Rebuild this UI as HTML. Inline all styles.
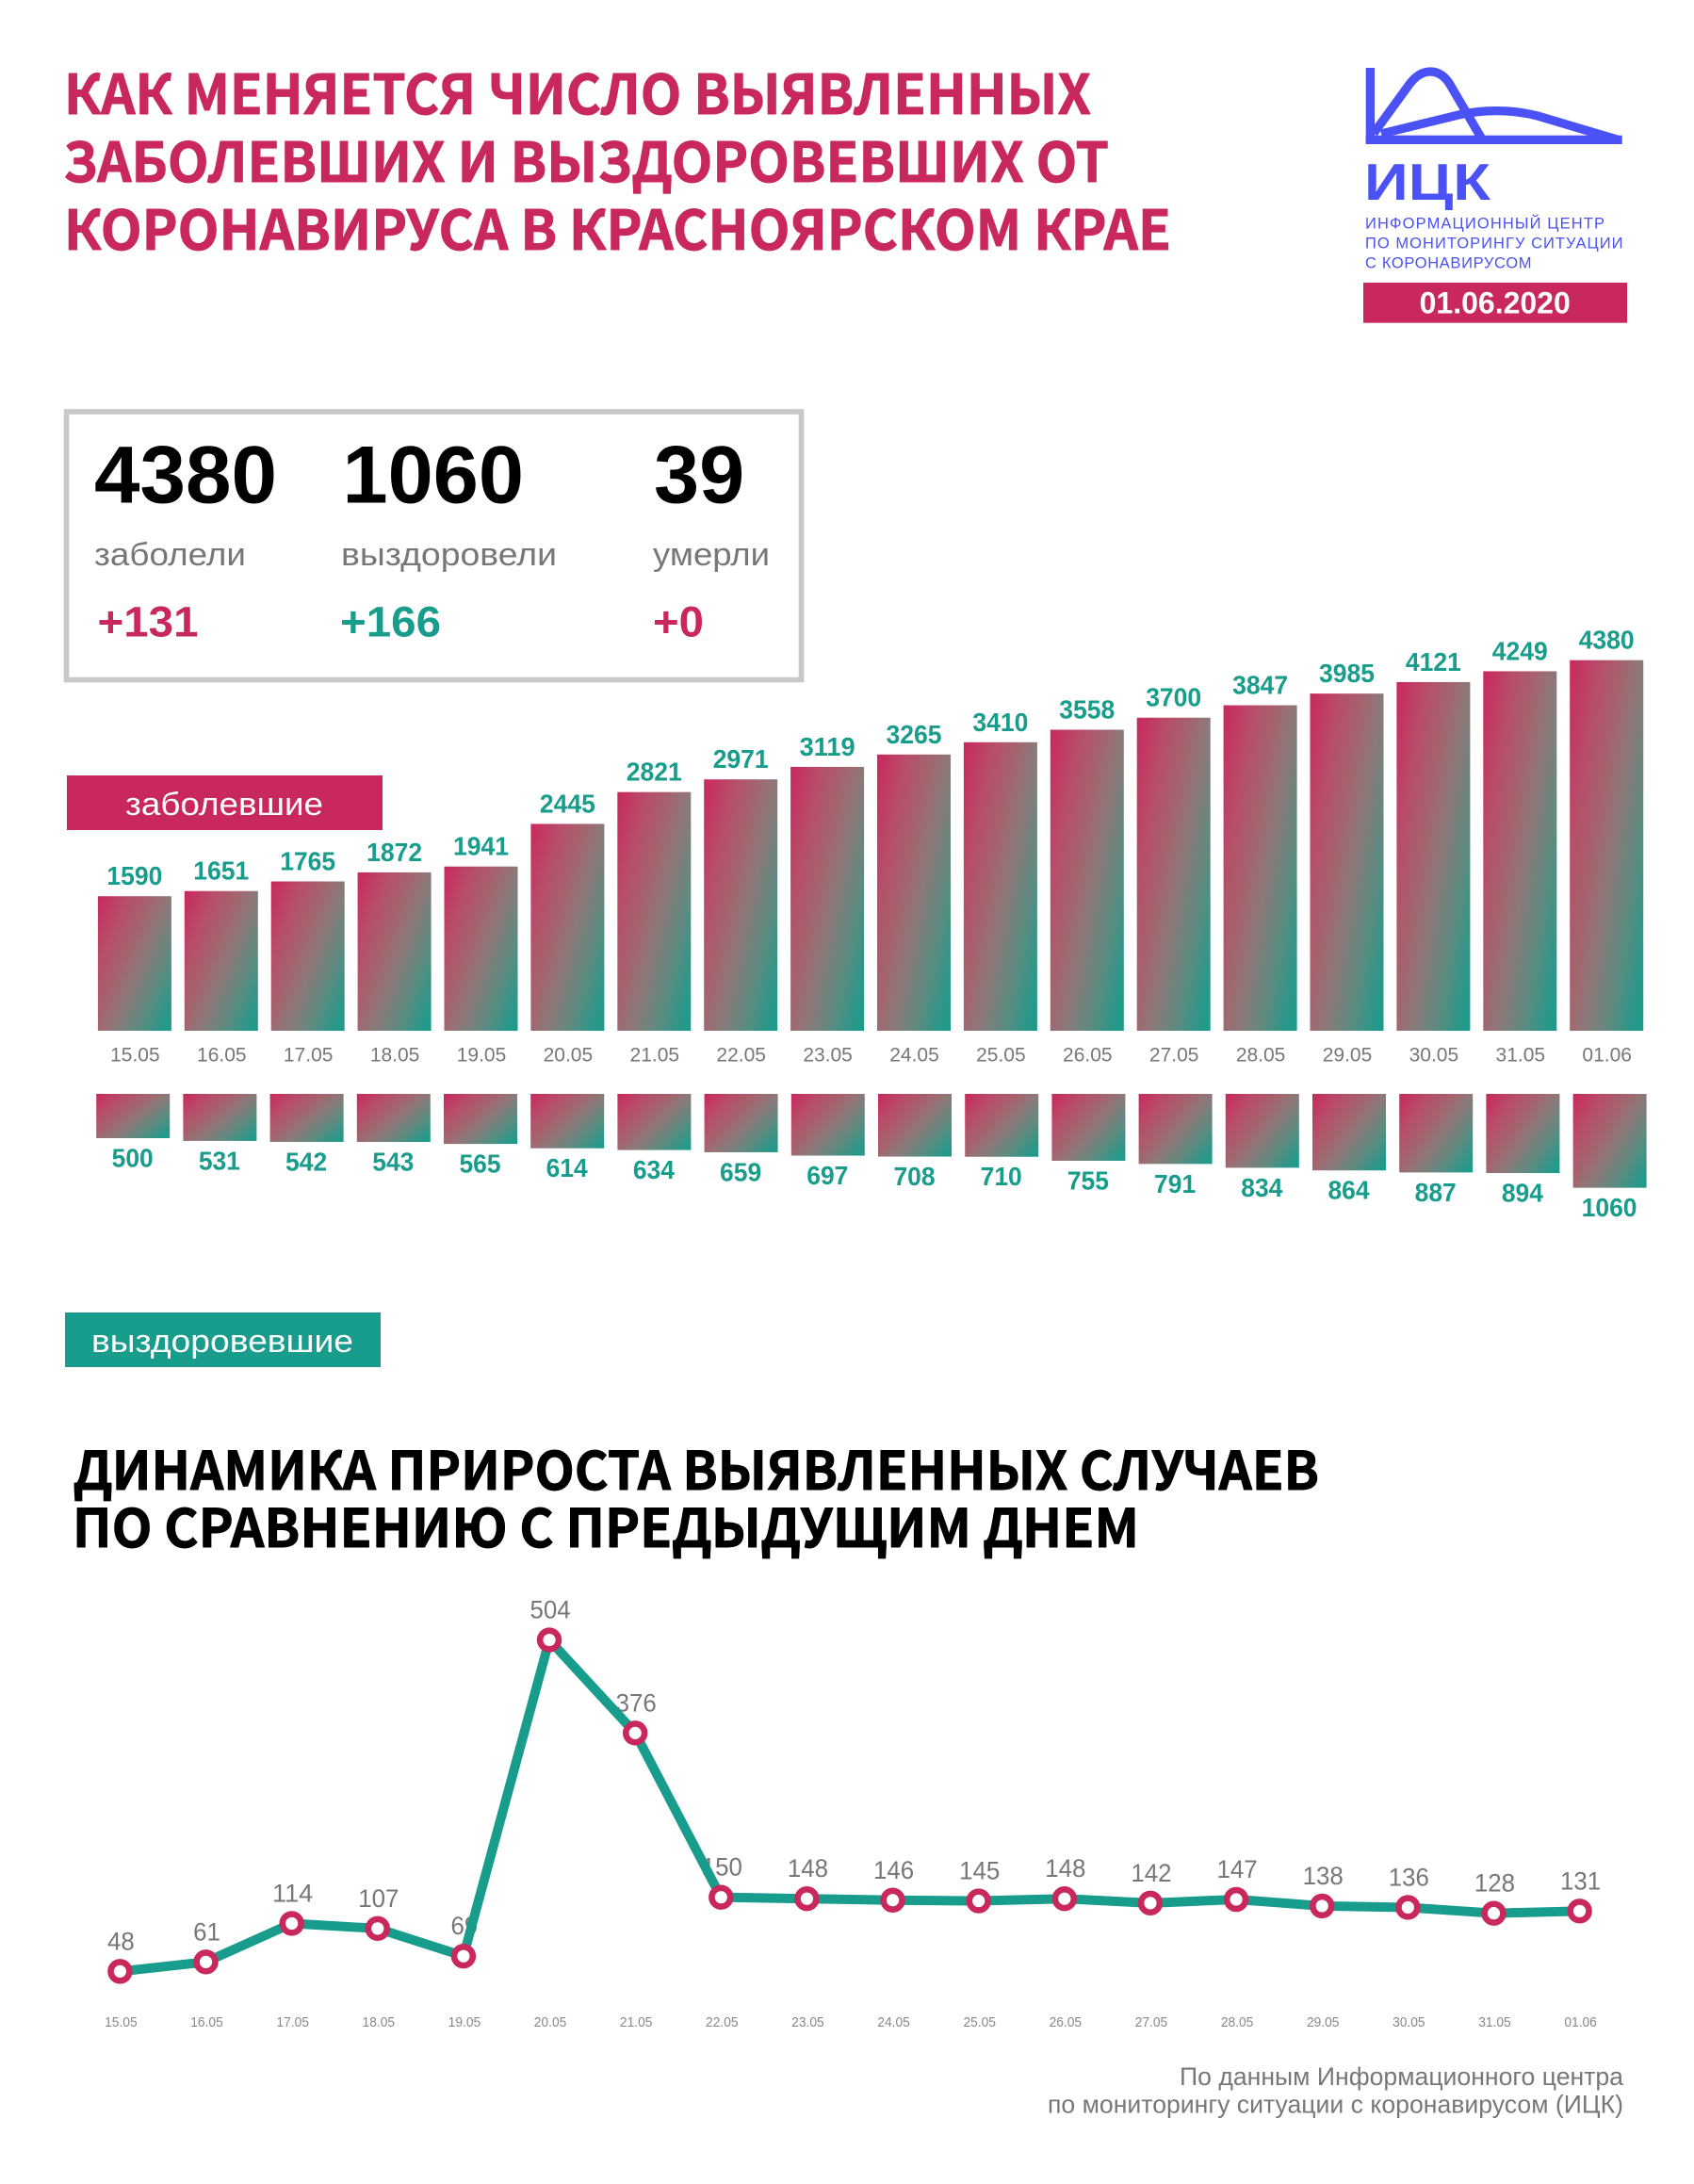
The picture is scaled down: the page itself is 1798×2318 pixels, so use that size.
<!DOCTYPE html>
<html lang="ru">
<head>
<meta charset="utf-8">
<title>Коронавирус в Красноярском крае</title>
<style>
html,body{margin:0;padding:0;background:#fff}
svg{display:block}
text{font-family:"Liberation Sans","Noto Sans CJK JP",sans-serif}
.cal{font-family:"Noto Sans CJK JP","Liberation Sans",sans-serif;font-weight:700;stroke-width:0.9;stroke-linejoin:round}
</style>
</head>
<body>
<svg id="page" xmlns="http://www.w3.org/2000/svg" width="1798" height="2318" viewBox="0 0 1798 2318">
<defs>
<linearGradient id="barGrad" x1="0" y1="0" x2="1.104" y2="0.868">
<stop offset="0" stop-color="#c9285c"/>
<stop offset="0.22" stop-color="#b84c68"/>
<stop offset="0.44" stop-color="#a0686f"/>
<stop offset="0.5" stop-color="#947276"/>
<stop offset="0.56" stop-color="#8a7a78"/>
<stop offset="0.75" stop-color="#5a8c82"/>
<stop offset="0.9" stop-color="#2c9789"/>
<stop offset="1" stop-color="#189c8c"/>
</linearGradient>
</defs>
<rect width="1798" height="2318" fill="#fff"/>

<g fill="#c9285c" stroke="#c9285c" font-size="58">
<text class="cal" x="68" y="121" textLength="1090" lengthAdjust="spacingAndGlyphs">КАК МЕНЯЕТСЯ ЧИСЛО ВЫЯВЛЕННЫХ</text>
<text class="cal" x="67" y="193" textLength="1110" lengthAdjust="spacingAndGlyphs">ЗАБОЛЕВШИХ И ВЫЗДОРОВЕВШИХ ОТ</text>
<text class="cal" x="68" y="265" textLength="1175" lengthAdjust="spacingAndGlyphs">КОРОНАВИРУСА В КРАСНОЯРСКОМ КРАЕ</text>
</g>

<g>
<g fill="none" stroke="#4a52f5" stroke-width="9.3">
<path d="M1458,141.5 L1497,88 C1510,72 1527,72 1538,88 L1572,146"/>
<path d="M1466,142 L1548,122 C1575,116 1605,116 1632,123 L1716,148"/>
</g>
<rect x="1449.7" y="72" width="9.3" height="81" fill="#4a52f5"/>
<rect x="1449.7" y="143.7" width="272" height="9.3" fill="#4a52f5"/>
<text x="1448" y="212" font-size="55" font-weight="700" fill="#4a52f5" textLength="134" lengthAdjust="spacingAndGlyphs">ИЦК</text>
<text x="1449" y="242.7" font-size="16.5" fill="#4a52f5" textLength="254" lengthAdjust="spacing">ИНФОРМАЦИОННЫЙ ЦЕНТР</text>
<text x="1449" y="263.7" font-size="16.5" fill="#4a52f5" textLength="273.5" lengthAdjust="spacing">ПО МОНИТОРИНГУ СИТУАЦИИ</text>
<text x="1449" y="284.3" font-size="16.5" fill="#4a52f5" textLength="176.5" lengthAdjust="spacing">С КОРОНАВИРУСОМ</text>
</g>
<rect x="1447" y="300" width="280" height="42.7" fill="#c9285c"/>
<text x="1586.7" y="332.3" text-anchor="middle" font-size="32" font-weight="700" fill="#fff">01.06.2020</text>

<g>
<rect x="70.5" y="437" width="780" height="284.5" fill="none" stroke="#c8c8c8" stroke-width="5.6"/>
<text x="100" y="533.5" font-size="86.5" font-weight="700" fill="#000" textLength="194" lengthAdjust="spacingAndGlyphs">4380</text>
<text x="363.5" y="533.5" font-size="86.5" font-weight="700" fill="#000">1060</text>
<text x="694" y="533.5" font-size="86.5" font-weight="700" fill="#000">39</text>
<text x="100" y="600" font-size="34" fill="#777" textLength="161" lengthAdjust="spacingAndGlyphs">заболели</text>
<text x="362" y="600" font-size="34" fill="#777" textLength="229" lengthAdjust="spacingAndGlyphs">выздоровели</text>
<text x="693" y="600" font-size="34" fill="#777" textLength="124" lengthAdjust="spacingAndGlyphs">умерли</text>
<text x="103.5" y="675.6" font-size="45" font-weight="700" fill="#c9285c" textLength="107" lengthAdjust="spacingAndGlyphs">+131</text>
<text x="361" y="675.6" font-size="45" font-weight="700" fill="#189c8c" textLength="107" lengthAdjust="spacingAndGlyphs">+166</text>
<text x="693" y="675.6" font-size="45" font-weight="700" fill="#c9285c" textLength="54" lengthAdjust="spacingAndGlyphs">+0</text>
</g>

<rect x="71" y="823" width="335" height="58" fill="#c9285c"/>
<text x="133" y="864.8" font-size="34" fill="#fff" textLength="210" lengthAdjust="spacingAndGlyphs">заболевшие</text>
<rect x="69" y="1393" width="335" height="58" fill="#189c8c"/>
<text x="97" y="1435" font-size="34" fill="#fff" textLength="278" lengthAdjust="spacingAndGlyphs">выздоровевшие</text>

<g id="casesChart"></g>
<g id="recoveredChart"></g>

<g fill="#000" stroke="#000" font-size="56">
<text class="cal" x="78" y="1581" textLength="1322" lengthAdjust="spacingAndGlyphs">ДИНАМИКА ПРИРОСТА ВЫЯВЛЕННЫХ СЛУЧАЕВ</text>
<text class="cal" x="77" y="1642" textLength="1132" lengthAdjust="spacingAndGlyphs">ПО СРАВНЕНИЮ С ПРЕДЫДУЩИМ ДНЕМ</text>
</g>

<g id="growthChart"></g>

<g fill="#777" font-size="27">
<text x="1252" y="2213" textLength="471" lengthAdjust="spacingAndGlyphs">По данным Информационного центра</text>
<text x="1112" y="2242.7" textLength="611" lengthAdjust="spacingAndGlyphs">по мониторингу ситуации с коронавирусом (ИЦК)</text>
</g>
</svg>

<script>
const dates = ["15.05","16.05","17.05","18.05","19.05","20.05","21.05","22.05","23.05","24.05","25.05","26.05","27.05","28.05","29.05","30.05","31.05","01.06"];
const casesTotal = [1590,1651,1765,1872,1941,2445,2821,2971,3119,3265,3410,3558,3700,3847,3985,4121,4249,4380];
const recoveredTotal = [500,531,542,543,565,614,634,659,697,708,710,755,791,834,864,887,894,1060];
const dailyGrowth = [48,61,114,107,69,504,376,150,148,146,145,148,142,147,138,136,128,131];

const NS = "http://www.w3.org/2000/svg";
const TEAL = "#189c8c";
const CRIMSON = "#c9285c";
const BAR_W = 78;

function casesX(i){ return 103.9 + 91.9 * i; }
function casesY(v){ return 1094 - v * 0.0898; }
function recoveredX(i){ return 102.2 + 92.2 * i; }
function recoveredY(v){ return 1161 + v * 0.094; }
function growthX(i){ return 127.4 + 91.13 * i; }
function growthY(v){ return 2129.4 - v * 0.7715; }

function makeText(parent, str, x, y, size, fill, bold, perDigit){
  const t = document.createElementNS(NS, "text");
  t.setAttribute("x", x);
  t.setAttribute("y", y);
  t.setAttribute("text-anchor", "middle");
  t.setAttribute("font-size", size);
  t.setAttribute("fill", fill);
  if (bold) t.setAttribute("font-weight", "700");
  if (perDigit) {
    t.setAttribute("textLength", String(str).length * perDigit);
    t.setAttribute("lengthAdjust", "spacingAndGlyphs");
  }
  t.textContent = str;
  parent.appendChild(t);
  return t;
}
function makeBar(parent, x, y, h){
  const r = document.createElementNS(NS, "rect");
  r.setAttribute("x", x);
  r.setAttribute("y", y);
  r.setAttribute("width", BAR_W);
  r.setAttribute("height", h);
  r.setAttribute("fill", "url(#barGrad)");
  parent.appendChild(r);
  return r;
}

const casesG = document.getElementById("casesChart");
casesTotal.forEach(function(v, i){
  const top = casesY(v);
  const bar = makeBar(casesG, casesX(i), top, casesY(0) - top);
  
  
  const val = makeText(casesG, v, casesX(i) + BAR_W / 2, top - 12, 28, TEAL, true, 14.75);
  
  
  const tick = makeText(casesG, dates[i], casesX(i) + BAR_W / 2 + 0.5, 1126.4, 21, "#777", false);
  
  
});

const recG = document.getElementById("recoveredChart");
recoveredTotal.forEach(function(v, i){
  const bottom = recoveredY(v);
  const bar = makeBar(recG, recoveredX(i), recoveredY(0), bottom - recoveredY(0));
  
  
  const val = makeText(recG, v, recoveredX(i) + BAR_W / 2 - 0.5, bottom + 30.5, 27.5, TEAL, true, 14.7);
  
  
});

const growthG = document.getElementById("growthChart");
dailyGrowth.forEach(function(v, i){
  const val = makeText(growthG, v, growthX(i) + 1, growthY(v) - 23, 27, "#777", false, 14.4);
  
  
  const tick = makeText(growthG, dates[i], growthX(i) + 1, 2151, 14.5, "#888", false);
  tick.setAttribute('textLength', 34.5);
  tick.setAttribute('lengthAdjust', 'spacingAndGlyphs');
  
  
});
const line = document.createElementNS(NS, "polyline");
line.setAttribute("points", dailyGrowth.map(function(v, i){ return growthX(i) + "," + growthY(v); }).join(" "));
line.setAttribute("fill", "none");
line.setAttribute("stroke", TEAL);
line.setAttribute("stroke-width", "10");


growthG.appendChild(line);
dailyGrowth.forEach(function(v, i){
  const c = document.createElementNS(NS, "circle");
  c.setAttribute("cx", growthX(i));
  c.setAttribute("cy", growthY(v));
  c.setAttribute("r", "9.9");
  c.setAttribute("fill", "#fff");
  c.setAttribute("stroke", CRIMSON);
  c.setAttribute("stroke-width", "6.6");
  
  
  growthG.appendChild(c);
});
</script>
</body>
</html>
